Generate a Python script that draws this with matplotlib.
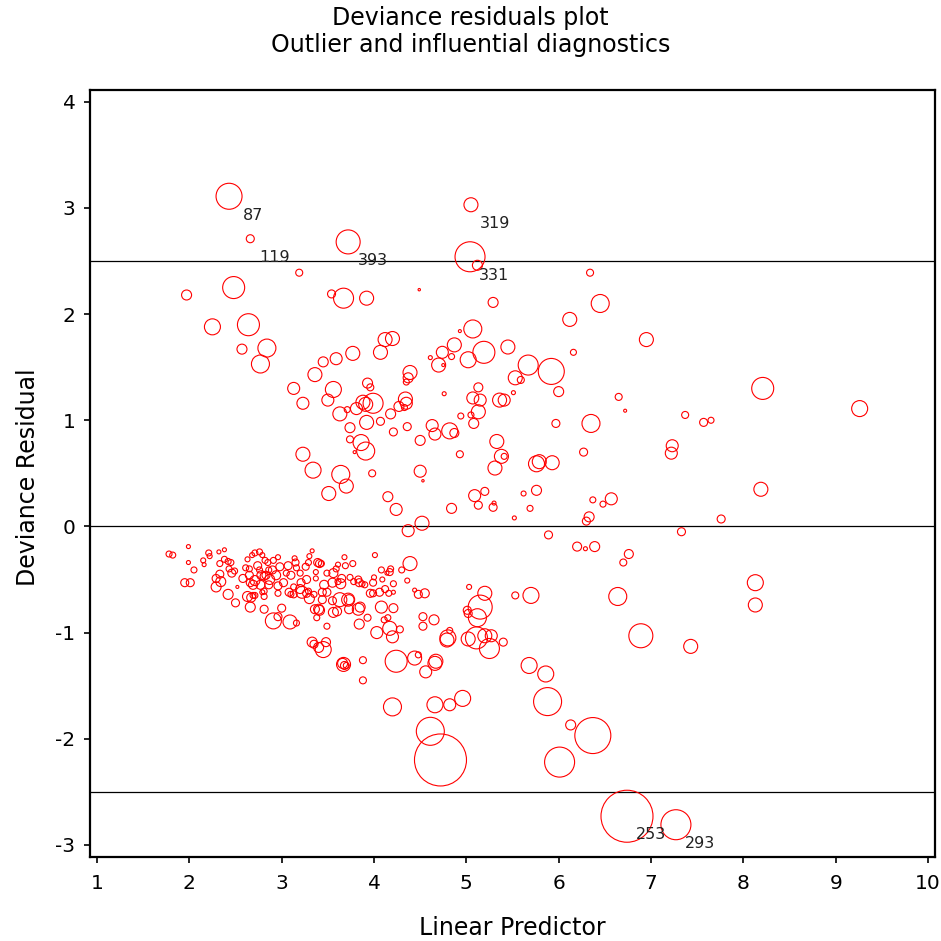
import matplotlib
matplotlib.use("Agg")
import matplotlib.pyplot as plt

plt.rcParams['font.family'] = ['DejaVu Sans']
plt.rcParams['axes.unicode_minus'] = False

# flagged observations (linear predictor, deviance residual, influence)
flag_ids = ['87', '119', '393', '319', '331', '253', '293']
flag_x = [2.43, 2.66, 3.72, 5.05, 5.04, 6.74, 7.27]
flag_y = [3.11, 2.71, 2.68, 3.03, 2.54, -2.73, -2.81]
flag_infl = [13, 4, 12, 7, 15, 26, 15]

# positive residuals
pos_x = [5.12, 3.19, 6.34, 1.97, 2.48, 3.54, 3.67, 3.92, 4.49, 5.29, 6.45, 2.25, 2.64, 6.12,
         5.07, 4.93, 6.95, 2.57, 2.84, 2.77, 4.12, 4.20, 4.07, 3.77, 3.59, 3.45, 3.36, 3.13,
         3.23, 3.56, 3.50, 3.93, 3.96, 5.19, 4.87, 5.45, 4.74, 4.61, 4.84, 4.70, 4.75, 5.02,
         5.67, 5.92, 5.53, 5.59, 6.16, 6.00, 6.65, 4.76, 5.51, 5.13, 5.07, 5.15, 5.36, 5.41,
         4.39, 4.37, 4.35, 4.34, 4.35, 4.33, 4.27, 4.18, 4.07, 3.92, 3.99, 3.91, 3.88, 3.81,
         3.71, 3.63, 3.74, 3.74, 3.86, 3.91, 3.79, 4.21, 4.36, 4.50, 4.63, 4.66, 4.82, 4.87,
         4.94, 5.05, 5.13, 5.08, 5.33, 5.38, 5.41, 5.31, 5.76, 5.79, 5.93, 4.93, 3.23, 3.34,
         3.64, 3.70, 3.51, 3.98, 4.50, 4.53, 4.15, 4.24, 4.52, 4.84, 5.09, 5.20, 5.13, 5.29,
         5.30, 5.62, 5.69, 5.76, 5.52, 6.37, 6.48, 6.57, 6.33, 6.30, 7.76, 6.72, 7.37, 7.57,
         7.65, 6.35, 5.97, 6.27, 7.23, 7.22, 8.21, 9.26, 8.19]
pos_y = [2.46, 2.39, 2.39, 2.18, 2.25, 2.19, 2.15, 2.15, 2.23, 2.11, 2.10, 1.88, 1.90, 1.95,
         1.86, 1.84, 1.76, 1.67, 1.68, 1.53, 1.76, 1.77, 1.64, 1.63, 1.58, 1.55, 1.43, 1.30,
         1.16, 1.29, 1.19, 1.35, 1.31, 1.64, 1.71, 1.69, 1.64, 1.59, 1.60, 1.52, 1.52, 1.57,
         1.52, 1.46, 1.40, 1.38, 1.64, 1.27, 1.22, 1.25, 1.26, 1.31, 1.21, 1.19, 1.19, 1.19,
         1.45, 1.40, 1.36, 1.20, 1.16, 1.12, 1.13, 1.06, 0.99, 0.98, 1.16, 1.15, 1.17, 1.11,
         1.10, 1.06, 0.93, 0.82, 0.79, 0.71, 0.70, 0.89, 0.94, 0.81, 0.95, 0.87, 0.90, 0.88,
         1.04, 1.05, 1.08, 0.97, 0.80, 0.66, 0.66, 0.55, 0.59, 0.61, 0.60, 0.68, 0.68, 0.53,
         0.49, 0.38, 0.31, 0.50, 0.52, 0.43, 0.28, 0.16, 0.03, 0.17, 0.29, 0.33, 0.20, 0.18,
         0.22, 0.31, 0.17, 0.34, 0.08, 0.25, 0.21, 0.26, 0.09, 0.05, 0.07, 1.09, 1.05, 0.98,
         1.00, 0.97, 0.97, 0.70, 0.76, 0.69, 1.30, 1.11, 0.35]
pos_infl = [5, 3.5, 3.5, 5, 11, 4, 10, 7, 1.2, 5, 9, 8, 11, 7,
            9, 1.5, 7, 5, 9, 9, 7, 7, 7, 7, 6, 5, 7, 6,
            6, 8, 6, 5, 3.5, 11, 7, 7, 6, 2, 3, 7, 1.5, 8,
            10, 13, 7, 3.5, 3, 5, 3.5, 2, 2, 4.5, 6, 6, 7, 6,
            7, 5, 3, 7, 6, 3, 5, 5, 4, 7, 10, 7, 7, 6,
            3, 7, 5, 3.5, 8, 9, 1.5, 4, 4, 5, 6, 6, 8, 4.5,
            3, 3, 7, 5, 7, 7, 3, 7, 8, 7, 7, 3.5, 7, 8,
            9, 7, 7, 3.5, 6, 1.2, 5, 6, 7, 5, 6, 4, 4, 4,
            2, 2.5, 3, 5, 2, 3, 3, 6, 5, 4, 4, 1.5, 3.5, 4,
            3, 9, 4, 4, 6, 6, 11, 8, 7]

# negative residuals, higher predictor values
neg_x = [4.37, 7.33, 5.89, 4.39, 6.20, 6.29, 6.39, 6.76, 6.70, 6.64, 5.70, 5.53, 5.20, 5.15,
         5.12, 5.01, 5.02, 5.03, 6.89, 7.43, 8.13, 8.13, 5.11, 5.20, 5.27, 5.25, 5.40, 5.02,
         4.80, 4.79, 4.82, 4.53, 4.53, 4.65, 4.48, 4.55, 4.44, 4.12, 4.14, 4.21, 4.24, 4.44,
         4.48, 4.67, 4.66, 4.56, 5.68, 5.86, 4.20, 4.66, 4.82, 4.96, 5.88, 6.13, 6.37, 4.61,
         4.72, 6.01]
neg_y = [-0.04, -0.05, -0.08, -0.35, -0.19, -0.21, -0.19, -0.26, -0.34, -0.66, -0.65, -0.65, -0.63, -0.76,
         -0.86, -0.79, -0.82, -0.57, -1.03, -1.13, -0.53, -0.74, -1.05, -1.03, -1.03, -1.15, -1.09, -1.06,
         -1.05, -1.07, -0.98, -0.85, -0.94, -0.88, -0.64, -0.63, -0.60, -0.59, -0.44, -0.62, -1.27, -1.24,
         -1.21, -1.27, -1.29, -1.37, -1.31, -1.39, -1.70, -1.68, -1.68, -1.62, -1.65, -1.87, -1.97, -1.93,
         -2.20, -2.22]
neg_infl = [6, 4, 4, 7, 4.5, 2, 5, 4.5, 3.5, 9, 8, 3.5, 7, 12,
            9, 4, 4, 2.5, 12, 7, 8, 7, 11, 7, 6, 10, 4, 7,
            8, 7, 3, 4, 4, 5, 4, 4.5, 2, 3.5, 2, 2, 11, 7,
            3, 7, 7, 6, 8, 8, 9, 8, 6, 8, 14, 5, 18, 14,
            26, 15]

# dense cluster, low predictor values
cl_x = [1.78, 1.82, 1.99, 1.99, 1.95, 2.01, 2.05, 2.15, 2.16, 2.21, 2.22, 2.32, 2.38, 2.33,
        2.38, 2.42, 2.45, 2.33, 2.29, 2.29, 2.34, 2.42, 2.50, 2.43, 2.49, 2.46, 2.52, 2.58,
        2.61, 2.63, 2.68, 2.71, 2.76, 2.79, 2.65, 2.65, 2.71, 2.66, 2.69, 2.63, 2.67, 2.66,
        2.69, 2.71, 2.74, 2.76, 2.78, 2.82, 2.85, 2.91, 2.96, 2.86, 2.83, 2.90, 2.98, 2.94,
        2.87, 2.81, 2.86, 2.77, 2.81, 2.81, 2.79, 2.96, 2.96, 3.02, 3.05, 3.07, 3.14, 3.15,
        3.16, 3.10, 3.13, 3.08, 3.10, 3.13, 3.20, 3.26, 3.30, 3.29, 3.39, 3.41, 3.43, 3.33,
        3.27, 3.21, 3.20, 3.27, 3.29, 3.35, 3.37, 3.37, 3.46, 3.49, 3.56, 3.59, 3.61, 3.69,
        3.68, 3.77, 3.65, 3.61, 3.55, 3.64, 3.74, 3.78, 3.83, 3.84, 3.87, 3.90, 3.99, 4.00,
        4.09, 4.08, 4.17, 4.18, 4.21, 4.16, 4.01, 3.49, 3.55, 3.60, 3.63, 3.73, 3.73, 3.44,
        3.40, 3.38, 3.49, 3.85, 3.84, 3.93, 3.99, 4.08, 4.03, 4.11, 4.17, 4.20, 4.28, 4.15,
        4.21, 4.30, 4.36, 2.81, 3.00, 2.91, 2.96, 3.09, 3.16, 3.33, 3.35, 3.40, 3.48, 3.45,
        3.67, 3.66, 3.68, 3.70, 3.88, 3.88, 3.22, 3.30, 3.44, 3.36, 3.41, 3.56, 3.72, 3.83,
        3.96, 4.06]
cl_y = [-0.26, -0.27, -0.19, -0.34, -0.53, -0.53, -0.41, -0.32, -0.36, -0.25, -0.28, -0.24, -0.22, -0.35,
        -0.31, -0.33, -0.34, -0.45, -0.49, -0.57, -0.52, -0.64, -0.72, -0.40, -0.42, -0.44, -0.57, -0.49,
        -0.39, -0.31, -0.27, -0.25, -0.24, -0.27, -0.40, -0.46, -0.51, -0.53, -0.55, -0.66, -0.67, -0.76,
        -0.65, -0.65, -0.37, -0.41, -0.46, -0.32, -0.34, -0.32, -0.29, -0.41, -0.46, -0.41, -0.38, -0.46,
        -0.50, -0.47, -0.55, -0.55, -0.61, -0.66, -0.62, -0.56, -0.63, -0.53, -0.44, -0.37, -0.30, -0.34,
        -0.39, -0.46, -0.57, -0.62, -0.64, -0.64, -0.44, -0.38, -0.28, -0.34, -0.34, -0.35, -0.35, -0.23,
        -0.50, -0.53, -0.59, -0.63, -0.61, -0.64, -0.49, -0.43, -0.55, -0.44, -0.44, -0.40, -0.36, -0.37,
        -0.29, -0.35, -0.49, -0.52, -0.53, -0.54, -0.48, -0.52, -0.50, -0.53, -0.54, -0.55, -0.53, -0.48,
        -0.50, -0.41, -0.43, -0.40, -0.54, -0.63, -0.27, -0.62, -0.70, -0.80, -0.69, -0.69, -0.78, -0.69,
        -0.78, -0.86, -0.94, -0.76, -0.92, -0.86, -0.63, -0.76, -1.00, -0.88, -0.96, -1.04, -0.97, -0.86,
        -0.77, -0.41, -0.51, -0.78, -0.77, -0.89, -0.85, -0.90, -0.91, -1.09, -1.11, -1.14, -1.09, -1.16,
        -1.30, -1.29, -1.31, -1.31, -1.26, -1.45, -0.62, -0.68, -0.62, -0.78, -0.79, -0.81, -0.69, -0.78,
        -0.63, -0.62]
cl_infl = [3, 3, 2, 2, 4, 4, 3, 2.5, 2, 3, 2.5, 2, 2, 3,
           3, 3, 3, 4, 4, 5, 5, 5, 4, 3, 3, 4, 1.5, 4,
           3, 2.5, 2.5, 3, 3, 2.5, 3, 4, 5, 4, 4.5, 5, 4.5, 5,
           3, 3, 4, 3, 4.5, 3, 3, 3, 2.5, 3, 4, 4, 4, 4.5,
           5, 4, 4, 4.5, 3, 3, 2.5, 4, 3, 4, 3, 4, 2.5, 3.5,
           3, 4, 3, 4, 3, 3.5, 3, 3.5, 2.5, 3, 4, 4, 3, 2,
           4, 4, 4.5, 4, 3, 3, 2.5, 2.5, 4.5, 3, 4.5, 3, 2.5, 3,
           2.5, 3, 4, 3, 4.5, 5, 3, 3, 3.5, 4, 3, 3, 3.5, 2.5,
           2.5, 3, 3.5, 3, 3, 3, 2.5, 4, 4, 4.5, 7, 5, 4.5, 4,
           5, 3, 3, 5, 5, 3.5, 3.5, 6, 6, 3, 7, 6, 3.5, 3,
           4.5, 3, 2.5, 4, 4, 8, 4, 7, 3, 5, 4, 5, 4.5, 8,
           7, 5, 4, 3, 3.5, 3.5, 6, 5, 4, 4.5, 5, 5, 6.5, 6,
           4, 4]

xs = flag_x + pos_x + neg_x + cl_x
ys = flag_y + pos_y + neg_y + cl_y
infl = flag_infl + pos_infl + neg_infl + cl_infl
sizes = [(1.44 * v) ** 2 for v in infl]

fig = plt.figure(figsize=(9.41, 9.41), dpi=100)
ax = fig.add_axes([90 / 941, 84 / 941, 845 / 941, 767 / 941])

ax.scatter(xs, ys, s=sizes, facecolors='none', edgecolors='#ff0000', linewidths=0.8, zorder=3)

for lim in [2.5, 0, -2.5]:
    ax.axhline(lim, color='black', lw=0.9, zorder=2)

for lab, px, py in zip(flag_ids, flag_x, flag_y):
    ax.annotate(lab, (px, py), xytext=(17.5, -13.5), textcoords='offset points',
                ha='center', va='center', fontsize=11.5, color='#222222', zorder=4)

ax.set_xlim(0.924, 10.076)
ax.set_ylim(-3.114, 4.111)
ax.set_xticks(range(1, 11))
ax.set_yticks(range(-3, 5))
for sp in ax.spines.values():
    sp.set_linewidth(1.6)
ax.tick_params(axis='both', direction='out', length=4.5, width=1.2, labelsize=14.5)
ax.tick_params(axis='x', pad=8)
ax.tick_params(axis='y', pad=6)

fig.text(0.5, 1 - 18 / 941, 'Deviance residuals plot', ha='center', va='center', fontsize=17)
fig.text(0.5, 1 - 45 / 941, 'Outlier and influential diagnostics', ha='center', va='center', fontsize=17)
fig.text(512 / 941, 1 - 928 / 941, 'Linear Predictor', ha='center', va='center', fontsize=17)
fig.text(28 / 941, 1 - 477 / 941, 'Deviance Residual', ha='center', va='center',
         rotation=90, fontsize=17)

fig.savefig('out.png', dpi=100)
